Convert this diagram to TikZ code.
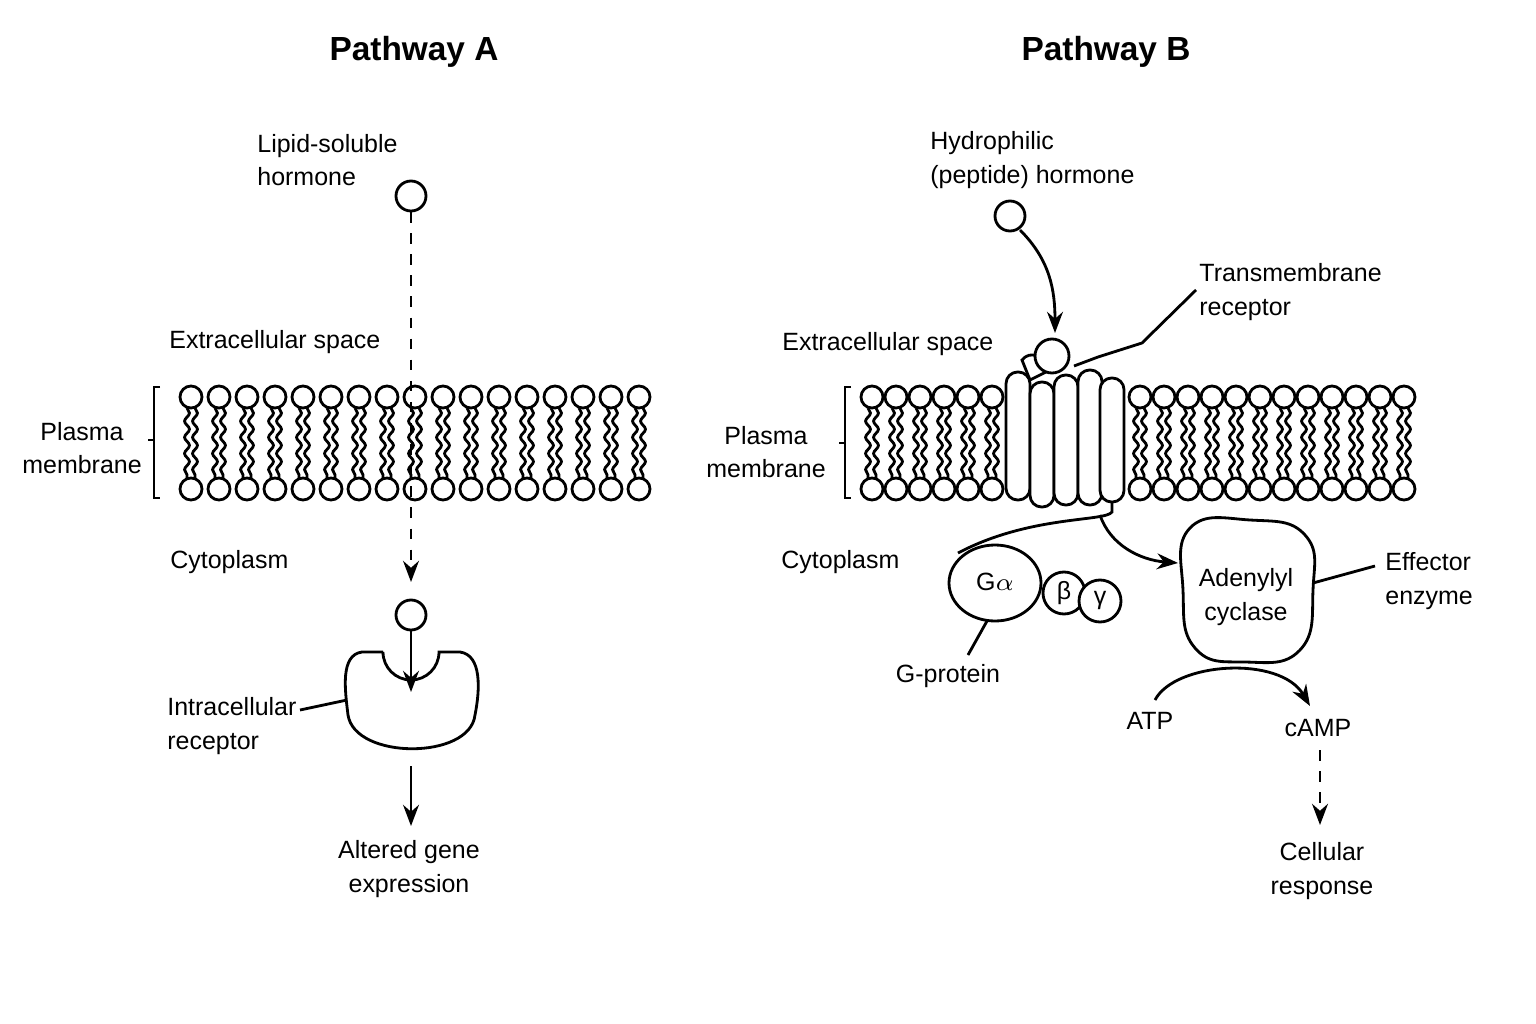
\documentclass[tikz,border=0pt]{standalone}
\usepackage{fontspec}
\setmainfont{Liberation Sans}
\usetikzlibrary{arrows.meta,decorations.pathmorphing}
\tikzset{
  lbl/.style={font=\fontsize{7.1}{9.6}\selectfont, align=center},
  lbll/.style={lbl, align=left, anchor=west, inner xsep=0pt},
  ttl/.style={font=\fontsize{9.5}{11}\selectfont\bfseries},
  head/.style={draw, thick, fill=white},
  tail/.style={decorate, decoration={snake, amplitude=0.7pt, segment length=4.6pt}},
  arr/.style={thick, -{Stealth[length=6pt]}},
}
\begin{document}
\begin{tikzpicture}[x=0.01cm, y=-0.01cm, line width=0.8pt]
\useasboundingbox (0,0) rectangle (1536,1024);

% titles
\node[ttl] (titleA) at (414,52) {Pathway A};
\node[ttl] (titleB) at (1106,52) {Pathway B};

%% ---------------- Pathway A ----------------
\foreach \x in {191,219,...,639} {
    \draw[tail] (\x-4,408) -- (\x-4,478);
    \draw[tail] (\x+4,408) -- (\x+4,478);
    \draw[head] (\x,397) circle (11);
    \draw[head] (\x,489) circle (11);
}
\draw (160,387) -- (154,387) -- (154,498) -- (160,498);
\draw (154,440) -- (148,440);
\node[lbl] (pmA) at (82,448) {Plasma\\membrane};
\node[lbll] (exA) at (168,342) {Extracellular space};
\node[lbll] (cyA) at (169,562) {Cytoplasm};

\node[lbll] (hormA) at (256,160) {Lipid-soluble\\hormone};
\draw (411,196) circle (15) coordinate (hA);
\coordinate (hAbot) at (411,212);
\coordinate (pAend) at (411,582);
\draw[arr, dashed] (hAbot) -- (pAend);
\draw (411,615) circle (15);
\coordinate (hA2) at (411,631);
\coordinate (hA3) at (411,692);
\draw[arr] (hA2) -- (hA3);

% intracellular receptor
\draw (383,652) -- (362,652) .. controls (340,655) and (345,690) .. (348,715)
      .. controls (355,760) and (470,760) .. (475,715)
      .. controls (480,690) and (482,655) .. (460,652) -- (439,652) arc (0:180:28);
\node[lbll] (irec) at (166,726) {Intracellular\\receptor};
\coordinate (irecA) at (300,710);
\coordinate (irecB) at (347,700);
\draw (irecA) -- (irecB);
\coordinate (recbot) at (411,766);
\coordinate (geneTop) at (411,826);
\draw[arr] (recbot) -- (geneTop);
\node[lbl] (gene) at (409,869) {Altered gene\\expression};

%% ---------------- Pathway B ----------------
\foreach \x in {872,896,...,992, 1140,1164,...,1408} {
    \draw[tail] (\x-4,408) -- (\x-4,478);
    \draw[tail] (\x+4,408) -- (\x+4,478);
    \draw[head] (\x,397) circle (11);
    \draw[head] (\x,489) circle (11);
}
\draw (851,387) -- (845,387) -- (845,498) -- (851,498);
\draw (845,443) -- (839,443);
\node[lbl] (pmB) at (766,452) {Plasma\\membrane};
\node[lbll] (exB) at (781,344) {Extracellular space};
\node[lbll] (cyB) at (780,562) {Cytoplasm};

% transmembrane receptor
\draw[fill=white] (1022,360) .. controls (1030,350) and (1045,355) .. (1046,372) -- (1030,380) -- cycle;
\foreach \cx/\top/\bot in {1018/372/500, 1042/382/507, 1066/375/505, 1090/370/505, 1112/378/502} {
    \draw[fill=white, rounded corners=3.3pt] (\cx-12,\top) rectangle (\cx+12,\bot);
}
\draw[fill=white] (1052,356) circle (17);
\node[lbll] (tmr) at (1198,292) {Transmembrane\\receptor};
\coordinate (tmA) at (1196,290);
\coordinate (tmB) at (1098,357);
\draw (tmA) -- (1142,343) -- (tmB) -- (1074,366);

\node[lbll] (hormB) at (929,160) {Hydrophilic\\(peptide) hormone};
\draw (1010,216) circle (15);
\coordinate (hBa) at (1020,230);
\coordinate (hBb) at (1055,333);
\draw[arr] (hBa) .. controls (1050,260) and (1055,290) .. (hBb);

% G-protein
\draw (995,583) ellipse (46 and 38);
\node[lbl] (ga) at (995,582) {G$\mathrm{\alpha}$};
\draw[fill=white] (1064,593) circle (21);
\node[lbl] (gb) at (1064,593) {β};
\draw[fill=white] (1100,601) circle (21);
\node[lbl] (gg) at (1100,600) {γ};
\node[lbl] (gprot) at (948,676) {G-protein};
\coordinate (gpA) at (987,621);
\coordinate (gpB) at (968,655);
\draw (gpA) -- (gpB);

\coordinate (rcBot) at (1112,502);
\coordinate (gaTop) at (958,553);
\draw (rcBot) -- (1112,512) .. controls (1105,522) and (1030,515) .. (gaTop);
\coordinate (acL) at (1178,563);
\draw[arr] (1100,515) .. controls (1110,545) and (1140,560) .. (acL);

% adenylyl cyclase
\draw plot[smooth cycle, tension=0.8] coordinates {(1190,528) (1250,520) (1305,535) (1313,590) (1300,650) (1245,662) (1195,648) (1183,590)};
\node[lbl] (ac) at (1246,597) {Adenylyl\\cyclase};
\node[lbll] (eff) at (1384,581) {Effector\\enzyme};
\coordinate (efA) at (1313,583);
\coordinate (efB) at (1375,566);
\draw (efA) -- (efB);

\node[lbl] (atp) at (1150,721) {ATP};
\node[lbl] (camp) at (1318,728) {cAMP};
\coordinate (atpA) at (1155,700);
\coordinate (campA) at (1310,706);
\draw[arr] (atpA) .. controls (1175,662) and (1280,655) .. (campA);
\coordinate (cmA) at (1320,750);
\coordinate (cmB) at (1320,825);
\draw[arr, dashed] (cmA) -- (cmB);
\node[lbl] (resp) at (1322,871) {Cellular\\response};
\end{tikzpicture}
\end{document}
